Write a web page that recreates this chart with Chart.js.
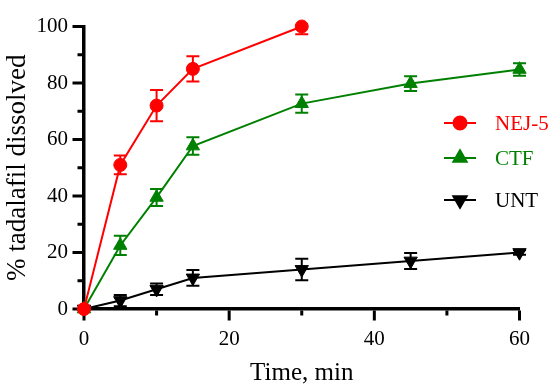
<!DOCTYPE html>
<html><head><meta charset="utf-8">
<script src="https://cdn.jsdelivr.net/npm/chart.js@4.4.0/dist/chart.umd.min.js"></script>
<style>html,body{margin:0;padding:0;background:#fff}#wrap{width:550px;height:388px}</style>
</head><body><div id="wrap"><canvas id="c" width="550" height="388"></canvas></div>
<script>
// ---- data ----
const seriesNames = ['NEJ-5', 'CTF', 'UNT'];
const nejTimes  = [0, 5, 10, 15, 30];
const nejValues = [0, 51, 72, 85, 100];
const nejErrors = [0, 3.3, 5.5, 4.5, 2.7];
const ctfTimes  = [0, 5, 10, 15, 30, 45, 60];
const ctfValues = [0, 22.5, 39.5, 57.7, 72.7, 79.8, 84.8];
const ctfErrors = [0, 3.4, 3.0, 3.1, 3.2, 2.6, 2.2];
const untTimes  = [0, 5, 10, 15, 30, 45, 60];
const untValues = [0, 3, 7, 11, 14, 17, 20];
const untErrors = [0, 2, 2, 2.8, 3.8, 2.8, 0.8];
const xTickValues = [0, 20, 40, 60];
const xMinorTicks = [10, 30, 50];
const yTickValues = [0, 20, 40, 60, 80, 100];
const yMinorTicks = [10, 30, 50, 70, 90];
const xTitle = 'Time, min';
const yTitle = '% tadalafil dissolved';

const FONT = "'Liberation Serif', 'Times New Roman', serif";
Chart.defaults.font.family = FONT;
Chart.defaults.color = '#000';
const colors = ['rgb(255,0,0)', 'rgb(0,128,0)', 'rgb(0,0,0)'];
const pointStyles = ['circle', 'triangle', 'triangle'];
const pointRotations = [0, 0, 180];
const pointRadii = [6.5, 7.7, 7.7];

function pts(t, v) { return t.map((x, i) => ({x: x, y: v[i]})); }
const allErrors = [nejErrors, ctfErrors, untErrors];

const datasets = [
  [nejTimes, nejValues], [ctfTimes, ctfValues], [untTimes, untValues]
].map((d, i) => ({
  label: seriesNames[i],
  data: pts(d[0], d[1]),
  order: i,
  borderColor: colors[i],
  backgroundColor: colors[i],
  borderWidth: 2,
  pointStyle: pointStyles[i],
  rotation: pointRotations[i],
  pointRadius: pointRadii[i],
  pointBorderWidth: 1,
  pointBackgroundColor: colors[i],
  pointBorderColor: colors[i],
  tension: 0,
  clip: false
}));

const errorBars = {
  id: 'errorBars',
  beforeDatasetsDraw(chart) {
    const ctx = chart.ctx, ys = chart.scales.y, ca = chart.chartArea;
    ctx.save();
    ctx.beginPath();
    ctx.rect(ca.left - 20, ca.top, ca.right - ca.left + 40, ca.bottom - ca.top + 20);
    ctx.clip();
    chart.data.datasets.forEach((ds, i) => {
      const meta = chart.getDatasetMeta(i);
      ctx.strokeStyle = colors[i];
      ctx.lineWidth = 2;
      ds.data.forEach((p, j) => {
        const e = allErrors[i][j];
        if (!e) return;
        const x = meta.data[j].x;
        const yt = ys.getPixelForValue(p.y + e), yb = ys.getPixelForValue(p.y - e);
        ctx.beginPath();
        ctx.moveTo(x, yt); ctx.lineTo(x, yb);
        ctx.moveTo(x - 6.5, yt); ctx.lineTo(x + 6.5, yt);
        ctx.moveTo(x - 6.5, yb); ctx.lineTo(x + 6.5, yb);
        ctx.stroke();
      });
    });
    ctx.restore();
  }
};

const tickMarks = {
  id: 'tickMarks',
  beforeDatasetsDraw(chart) {
    const ctx = chart.ctx, xs = chart.scales.x, ys = chart.scales.y, ca = chart.chartArea;
    ctx.save();
    ctx.strokeStyle = '#000';
    ctx.lineWidth = 3;
    const bx = ca.left - 1.5, by = ca.bottom + 1.5;
    ctx.beginPath();
    yTickValues.forEach(v => { const y = ys.getPixelForValue(v); ctx.moveTo(bx, y); ctx.lineTo(bx - 10, y); });
    yMinorTicks.forEach(v => { const y = ys.getPixelForValue(v); ctx.moveTo(bx, y); ctx.lineTo(bx - 5, y); });
    xTickValues.forEach(v => { const x = xs.getPixelForValue(v); ctx.moveTo(x, by); ctx.lineTo(x, by + 10); });
    xMinorTicks.forEach(v => { const x = xs.getPixelForValue(v); ctx.moveTo(x, by); ctx.lineTo(x, by + 5); });
    ctx.stroke();
    ctx.restore();
  }
};

const legendPlugin = {
  id: 'customLegend',
  afterDraw(chart) {
    const ctx = chart.ctx;
    const ysPos = [123, 158, 200];
    ctx.save();
    chart.data.datasets.forEach((ds, i) => {
      const y = ysPos[i];
      ctx.strokeStyle = colors[i];
      ctx.lineWidth = 2;
      ctx.beginPath(); ctx.moveTo(444, y); ctx.lineTo(476, y); ctx.stroke();
      Chart.helpers.drawPoint(ctx, {pointStyle: pointStyles[i], rotation: pointRotations[i], radius: pointRadii[i], borderWidth: 1}, 460, y);
      ctx.fillStyle = colors[i];
      ctx.fill();
      ctx.font = '21px ' + FONT;
      ctx.textAlign = 'left';
      ctx.textBaseline = 'middle';
      ctx.fillText(ds.label, 495, y + 1);
    });
    ctx.restore();
  }
};

new Chart(document.getElementById('c'), {
  type: 'line',
  data: { datasets: datasets },
  plugins: [errorBars, tickMarks, legendPlugin],
  options: {
    responsive: false,
    animation: false,
    devicePixelRatio: 1,
    layout: { padding: { top: 12, right: 23, bottom: 0, left: 0 } },
    plugins: { legend: { display: false }, tooltip: { enabled: false } },
    scales: {
      x: {
        type: 'linear', min: 0, max: 60,
        afterBuildTicks: s => { s.ticks = xTickValues.map(v => ({value: v})); },
        afterFit: s => { s.height = 79; },
        ticks: { font: { family: FONT, size: 21, lineHeight: 1 }, color: '#000', padding: 20, maxRotation: 0 },
        grid: { display: false, drawTicks: false },
        border: { display: true, width: 3.5, color: '#000' },
        title: { display: true, text: xTitle, color: '#000', font: { family: FONT, size: 25, lineHeight: 1 }, padding: { top: 0, bottom: 2 } }
      },
      y: {
        type: 'linear', min: 0, max: 100,
        afterBuildTicks: s => { s.ticks = yTickValues.map(v => ({value: v})); },
        afterFit: s => { s.width = 84; },
        ticks: { font: { family: FONT, size: 21, lineHeight: 1 }, color: '#000', padding: 16 },
        grid: { display: false, drawTicks: false },
        border: { display: true, width: 3.5, color: '#000' },
        title: { display: true, text: yTitle, color: '#000', font: { family: FONT, size: 27, lineHeight: 1 }, padding: { top: 4, bottom: 0 } }
      }
    }
  }
});
</script></body></html>
